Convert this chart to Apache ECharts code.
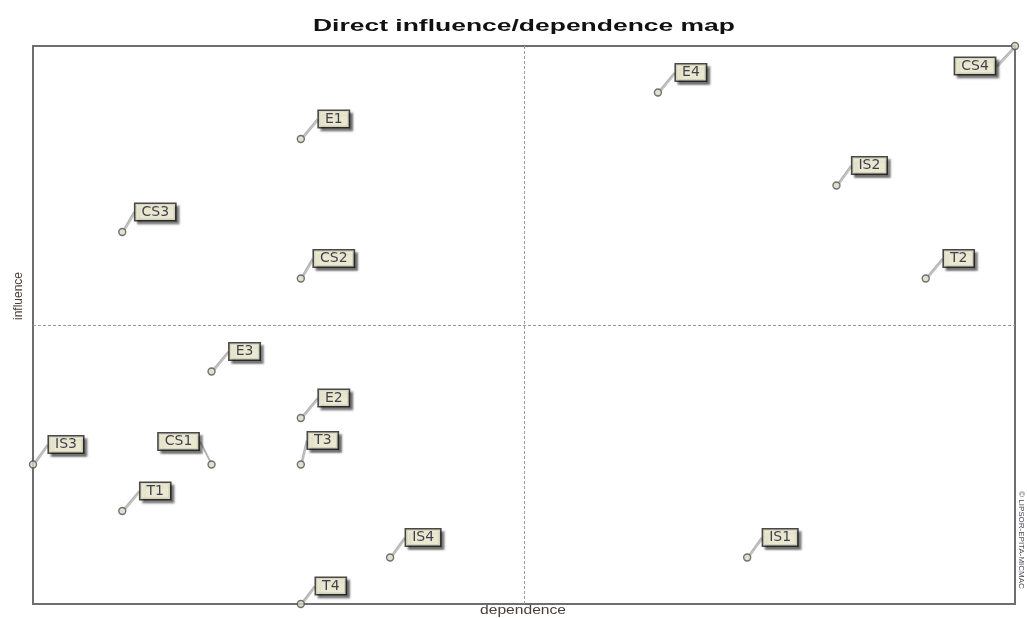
<!DOCTYPE html>
<html><head><meta charset="utf-8">
<script src="https://cdn.jsdelivr.net/npm/echarts@6/dist/echarts.min.js"></script>
<style>html,body{margin:0;padding:0;background:#fff}#chart{width:1027px;height:618px}</style>
</head><body><div id="chart"></div>
<script>
// ---- data ----
const variables  = ['E1','E2','E3','E4','CS1','CS2','CS3','CS4','IS1','IS2','IS3','IS4','T1','T2','T3','T4'];
const dependence = [3, 3, 2, 7, 2, 3, 1, 11, 8, 9, 0, 4, 1, 10, 3, 3];
const influence  = [10, 4, 5, 11, 3, 7, 8, 12, 1, 9, 3, 1, 2, 7, 3, 0];
const titleText = 'Direct influence/dependence map';
const xAxisName = 'dependence';
const yAxisName = 'influence';
const watermark = '\u00A9 LIPSOR-EPITA-MICMAC';

// ---- layout / style (not data) ----
const labelOffsets = { _default: [33, -20], CS4: [-40, 20], CS1: [-33, -23], T3: [22, -24], T4: [30, -18] };

const xMin = Math.min(...dependence), xMax = Math.max(...dependence);
const yMin = Math.min(...influence), yMax = Math.max(...influence);
const xMid = (xMin + xMax) / 2, yMid = (yMin + yMax) / 2;

const points = variables.map((n, i) => ({ name: n, value: [dependence[i], influence[i]] }));

function stretch(text, font, target) {
  const c = document.createElement('canvas').getContext('2d');
  c.font = font;
  return target / c.measureText(text).width;
}
const titleFont = 'bold 17px "Liberation Sans", Arial, sans-serif';
const xNameFont = '12px "Liberation Sans", Arial, sans-serif';

const chart = echarts.init(document.getElementById('chart'));
chart.setOption({
  animation: false,
  backgroundColor: '#ffffff',
  grid: { left: 33, right: 12, top: 46, bottom: 14, show: true, borderColor: '#6e6e6e', borderWidth: 2, backgroundColor: 'transparent' },
  xAxis: { type: 'value', min: xMin, max: xMax, axisLine: { show: false }, axisTick: { show: false }, axisLabel: { show: false }, splitLine: { show: false } },
  yAxis: { type: 'value', min: yMin, max: yMax, axisLine: { show: false }, axisTick: { show: false }, axisLabel: { show: false }, splitLine: { show: false } },
  graphic: [
    { type: 'text', x: 524, y: 26, scaleX: stretch(titleText, titleFont, 422), style: { text: titleText, font: titleFont, fill: '#111111', textAlign: 'center', textVerticalAlign: 'middle' } },
    { type: 'text', x: 523, y: 611, scaleX: stretch(xAxisName, xNameFont, 86), style: { text: xAxisName, font: xNameFont, fill: '#4a4038', textAlign: 'center', textVerticalAlign: 'middle' } },
    { type: 'text', x: 19, y: 296, rotation: Math.PI / 2, style: { text: yAxisName, font: '12px "Liberation Sans", Arial, sans-serif', fill: '#4a4038', textAlign: 'center', textVerticalAlign: 'middle' } },
    { type: 'text', x: 1021, y: 540, rotation: -Math.PI / 2, style: { text: watermark, font: '8px "Liberation Sans", Arial, sans-serif', fill: '#4a4a55', textAlign: 'center', textVerticalAlign: 'middle' } }
  ],
  series: [{
    type: 'scatter',
    data: points,
    clip: false,
    symbol: 'circle',
    symbolSize: 7,
    itemStyle: { color: '#d8d8c4', borderColor: '#505050', borderWidth: 1.4 },
    emphasis: { disabled: true },
    label: {
      show: true,
      position: 'inside',
      formatter: '{b}',
      color: '#141428',
      fontFamily: 'DejaVu Sans',
      fontSize: 14,
      lineHeight: 15,
      backgroundColor: '#fffbe0',
      borderColor: '#1a1a1a',
      borderWidth: 1.6,
      padding: [1, 6, 0, 6],
      shadowColor: 'rgba(0,0,0,0.5)',
      shadowBlur: 2,
      shadowOffsetX: 3,
      shadowOffsetY: 3
    },
    labelLine: { show: true, lineStyle: { color: '#b4b4b4', width: 1.5, shadowColor: 'rgba(0,0,0,0.25)', shadowOffsetX: 1, shadowOffsetY: 1 } },
    labelLayout: function (p) {
      const o = labelOffsets[variables[p.dataIndex]] || labelOffsets._default;
      return { dx: o[0], dy: o[1] };
    },
    markLine: {
      silent: true,
      symbol: 'none',
      label: { show: false },
      lineStyle: { type: [3, 2], color: '#9a9a9a', width: 1 },
      data: [{ xAxis: xMid }, { yAxis: yMid }]
    }
  }]
});
</script>
</body></html>
